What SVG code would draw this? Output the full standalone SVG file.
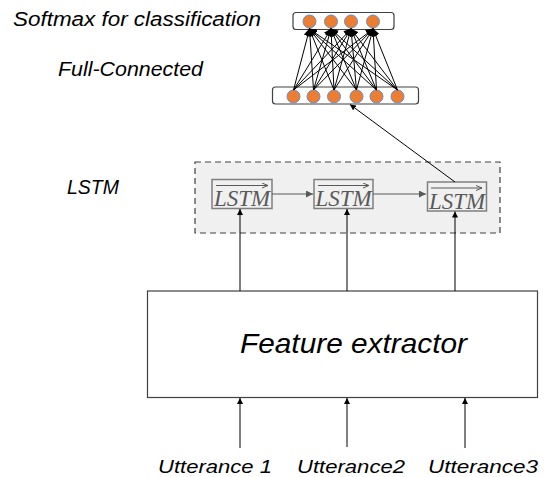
<svg xmlns="http://www.w3.org/2000/svg" width="549" height="477" viewBox="0 0 549 477">
<style>
.lbl{font-family:"Liberation Sans",Arial,sans-serif;font-style:italic;fill:#000}
.layer{fill:#fff;stroke:#404040;stroke-width:1.2}
.neu{fill:#ED7D31;stroke:#6A8FC0;stroke-width:1}
.fc{stroke:#000;stroke-width:1;fill:none;marker-end:url(#ah)}
.conn{stroke:#000;stroke-width:1;fill:none;marker-end:url(#as)}
.gconn{stroke:#595959;stroke-width:1;fill:none;marker-end:url(#ag)}
.lbox{fill:#f0f0f0;stroke:#7f7f7f;stroke-width:1.5}
.lt{font-family:"Liberation Serif","Times New Roman",serif;font-style:italic;font-size:24px;fill:#595959}
</style>
<defs>
<marker id="ah" markerWidth="8" markerHeight="8" refX="7" refY="4" orient="auto" markerUnits="userSpaceOnUse"><path d="M0,0 L8,4 L0,8 z" fill="#000"/></marker>
<marker id="as" markerWidth="6" markerHeight="6" refX="6" refY="3" orient="auto" markerUnits="userSpaceOnUse"><path d="M0,0 L6,3 L0,6 z" fill="#000"/></marker>
<marker id="ag" markerWidth="7" markerHeight="7" refX="7" refY="3.5" orient="auto" markerUnits="userSpaceOnUse"><path d="M0,0 L7,3.5 L0,7 z" fill="#595959"/></marker>
<marker id="ov" markerWidth="6" markerHeight="6" refX="6" refY="3" orient="auto" markerUnits="userSpaceOnUse"><path d="M0,0.5 L6,3 L0,5.5" fill="none" stroke="#595959" stroke-width="1"/></marker>
</defs>

<g id="labels">
<text class="lbl" x="13" y="26" font-size="20" textLength="248" lengthAdjust="spacingAndGlyphs">Softmax for classification</text>
<text class="lbl" x="58" y="76" font-size="20" textLength="145" lengthAdjust="spacingAndGlyphs">Full-Connected</text>
<text class="lbl" x="67" y="194" font-size="20" textLength="52" lengthAdjust="spacingAndGlyphs">LSTM</text>
</g>

<g id="lstm-region">
<rect x="195" y="162" width="305" height="71" fill="#f0f0f0" stroke="#404040" stroke-width="1.2" stroke-dasharray="6,4"/>
</g>

<g id="softmax">
<rect class="layer" x="293" y="12.5" width="101" height="17" rx="3"/>
<circle class="neu" cx="309.5" cy="21.5" r="6.5"/>
<circle class="neu" cx="331" cy="21.5" r="6.5"/>
<circle class="neu" cx="351" cy="21.5" r="6.5"/>
<circle class="neu" cx="373" cy="21.5" r="6.5"/>
</g>

<g id="fullconnected">
<rect class="layer" x="272.5" y="87" width="146" height="17" rx="3"/>
<circle class="neu" cx="293.5" cy="96.5" r="6.5"/>
<circle class="neu" cx="313.5" cy="96.5" r="6.5"/>
<circle class="neu" cx="334" cy="96.5" r="6.5"/>
<circle class="neu" cx="356.5" cy="96.5" r="6.5"/>
<circle class="neu" cx="376.5" cy="96.5" r="6.5"/>
<circle class="neu" cx="397.5" cy="96.5" r="6.5"/>
</g>

<g id="lstm1">
<rect class="lbox" x="212" y="179.5" width="60" height="29"/>
<line x1="216" y1="185.5" x2="268" y2="185.5" stroke="#595959" stroke-width="1" marker-end="url(#ov)"/>
<text class="lt" x="242" y="206" text-anchor="middle" textLength="56" lengthAdjust="spacingAndGlyphs">LSTM</text>
</g>
<g id="lstm2">
<rect class="lbox" x="314" y="179.5" width="59" height="29"/>
<line x1="318" y1="185.5" x2="369" y2="185.5" stroke="#595959" stroke-width="1" marker-end="url(#ov)"/>
<text class="lt" x="343.5" y="206" text-anchor="middle" textLength="56" lengthAdjust="spacingAndGlyphs">LSTM</text>
</g>
<g id="lstm3">
<rect class="lbox" x="427.5" y="182" width="59" height="29"/>
<line x1="431" y1="188" x2="482" y2="188" stroke="#595959" stroke-width="1" marker-end="url(#ov)"/>
<text class="lt" x="457" y="208.5" text-anchor="middle" textLength="56" lengthAdjust="spacingAndGlyphs">LSTM</text>
</g>

<g id="feature-extractor">
<rect x="147.5" y="291" width="390" height="106.5" fill="#fff" stroke="#404040" stroke-width="1.2"/>
<text class="lbl" x="240" y="353" font-size="28" textLength="227" lengthAdjust="spacingAndGlyphs">Feature extractor</text>
</g>

<g id="inputs">
<text class="lbl" x="158" y="473" font-size="19" textLength="114" lengthAdjust="spacingAndGlyphs">Utterance 1</text>
<text class="lbl" x="297" y="473" font-size="19" textLength="108" lengthAdjust="spacingAndGlyphs">Utterance2</text>
<text class="lbl" x="428" y="473" font-size="19" textLength="110" lengthAdjust="spacingAndGlyphs">Utterance3</text>
</g>

<g id="connectors">
<line class="fc" x1="293.5" y1="90" x2="309.5" y2="29"/>
<line class="fc" x1="293.5" y1="90" x2="331" y2="29"/>
<line class="fc" x1="293.5" y1="90" x2="351" y2="29"/>
<line class="fc" x1="293.5" y1="90" x2="373" y2="29"/>
<line class="fc" x1="313.5" y1="90" x2="309.5" y2="29"/>
<line class="fc" x1="313.5" y1="90" x2="331" y2="29"/>
<line class="fc" x1="313.5" y1="90" x2="351" y2="29"/>
<line class="fc" x1="313.5" y1="90" x2="373" y2="29"/>
<line class="fc" x1="334" y1="90" x2="309.5" y2="29"/>
<line class="fc" x1="334" y1="90" x2="331" y2="29"/>
<line class="fc" x1="334" y1="90" x2="351" y2="29"/>
<line class="fc" x1="334" y1="90" x2="373" y2="29"/>
<line class="fc" x1="356.5" y1="90" x2="309.5" y2="29"/>
<line class="fc" x1="356.5" y1="90" x2="331" y2="29"/>
<line class="fc" x1="356.5" y1="90" x2="351" y2="29"/>
<line class="fc" x1="356.5" y1="90" x2="373" y2="29"/>
<line class="fc" x1="376.5" y1="90" x2="309.5" y2="29"/>
<line class="fc" x1="376.5" y1="90" x2="331" y2="29"/>
<line class="fc" x1="376.5" y1="90" x2="351" y2="29"/>
<line class="fc" x1="376.5" y1="90" x2="373" y2="29"/>
<line class="fc" x1="397.5" y1="90" x2="309.5" y2="29"/>
<line class="fc" x1="397.5" y1="90" x2="331" y2="29"/>
<line class="fc" x1="397.5" y1="90" x2="351" y2="29"/>
<line class="fc" x1="397.5" y1="90" x2="373" y2="29"/>
<line class="conn" x1="455" y1="182" x2="350" y2="104.5"/>
<line class="gconn" x1="272" y1="194" x2="313" y2="194"/>
<line class="gconn" x1="373" y1="194" x2="426" y2="194"/>
<line class="conn" x1="240" y1="291" x2="240" y2="209"/>
<line class="conn" x1="347" y1="291" x2="347" y2="209"/>
<line class="conn" x1="455" y1="291" x2="455" y2="211.5"/>
<line class="conn" x1="240" y1="448" x2="240" y2="398"/>
<line class="conn" x1="347" y1="447" x2="347" y2="398"/>
<line class="conn" x1="465" y1="448" x2="465" y2="398"/>
</g>
</svg>
